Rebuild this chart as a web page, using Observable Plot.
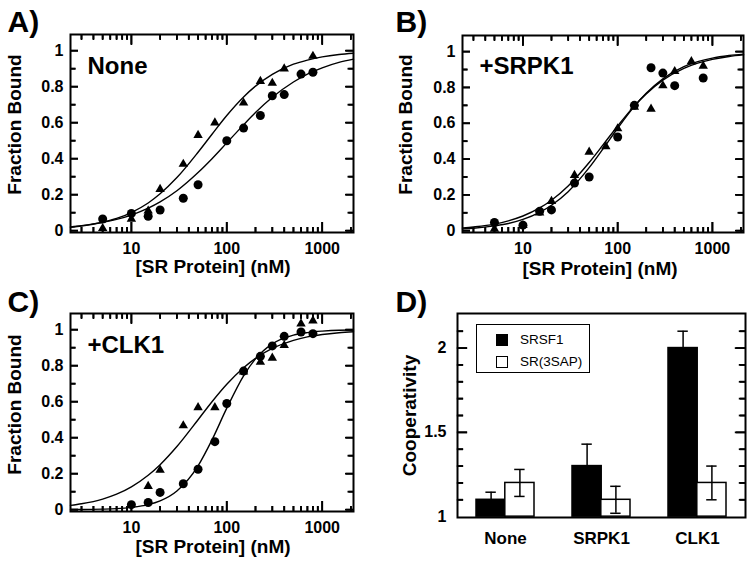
<!DOCTYPE html>
<html>
<head>
<meta charset="utf-8">
<script src="https://cdn.jsdelivr.net/npm/d3@7"></script>
<script src="https://cdn.jsdelivr.net/npm/@observablehq/plot@0.6"></script>
<style>
  html, body { margin: 0; padding: 0; background: #fff; }
  #wrap { position: relative; width: 754px; height: 565px;
          font-family: "Liberation Sans", Arial, Helvetica, sans-serif; }
  .panel { position: absolute; }
  #legend { position: absolute; left: 476px; top: 324px; width: 114px; height: 49px;
            box-sizing: border-box; border: 1px solid #000; background: #fff; font-size: 13.5px; color: #000; }
  #legend .row { position: absolute; left: 19px; height: 12px; display: flex; align-items: center; }
  #legend .sw { width: 12px; height: 12px; box-sizing: border-box; border: 1px solid #000; margin-right: 12px; }
  #legend .lab { line-height: 12px; }
</style>
</head>
<body>
<div id="wrap"></div>
<script>
// ---------------- data ----------------
const xMajor = [10, 100, 1000];
const xMinor = [3, 4, 5, 6, 7, 8, 9, 20, 30, 40, 50, 60, 70, 80, 90, 200, 300, 400, 500, 600, 700, 800, 900, 2000];
const yLabelTicks = [0, 0.2, 0.4, 0.6, 0.8, 1];
const yMinorTicks = [0.1, 0.3, 0.5, 0.7, 0.9];

// Panel A (None)
const concA_circ = [5, 10, 15, 20, 35, 50, 100, 150, 225, 300, 400, 600, 800];
const fbA_circ   = [0.065, 0.096, 0.08, 0.115, 0.18, 0.255, 0.50, 0.57, 0.64, 0.75, 0.756, 0.87, 0.88];
const concA_tri  = [5, 10, 15, 20, 35, 50, 75, 150, 225, 300, 400, 800];
const fbA_tri    = [0.013, 0.065, 0.11, 0.23, 0.37, 0.53, 0.60, 0.71, 0.83, 0.82, 0.90, 0.97];

// Panel B (+SRPK1)
const concB_circ = [5, 10, 15, 20, 35, 50, 100, 150, 225, 300, 400, 800];
const fbB_circ   = [0.046, 0.031, 0.108, 0.116, 0.266, 0.30, 0.523, 0.70, 0.91, 0.88, 0.81, 0.853];
const concB_tri  = [5, 10, 15, 20, 35, 50, 75, 100, 150, 225, 300, 400, 600, 800];
const fbB_tri    = [0.01, 0.03, 0.10, 0.165, 0.31, 0.44, 0.47, 0.57, 0.69, 0.68, 0.81, 0.89, 0.945, 0.92];

// Panel C (+CLK1)
const concC_circ = [10, 15, 20, 35, 50, 75, 100, 150, 225, 300, 400, 600, 800];
const fbC_circ   = [0.028, 0.04, 0.096, 0.144, 0.225, 0.378, 0.59, 0.77, 0.852, 0.91, 0.963, 0.987, 0.978];
const concC_tri  = [15, 20, 35, 50, 75, 150, 225, 300, 400, 600, 800];
const fbC_tri    = [0.13, 0.22, 0.467, 0.568, 0.568, 0.766, 0.82, 0.843, 0.913, 1.033, 1.05];

// fitted curves at these concentrations
const curveX   = [2.3, 3, 5, 7, 10, 15, 20, 30, 50, 70, 100, 150, 200, 300, 500, 700, 1000, 1500, 2130];
const fitA_tri  = [0.019, 0.026, 0.047, 0.068, 0.101, 0.154, 0.205, 0.295, 0.436, 0.536, 0.640, 0.743, 0.803, 0.869, 0.925, 0.948, 0.966, 0.979, 0.986];
const fitA_circ = [0.021, 0.028, 0.046, 0.063, 0.087, 0.125, 0.160, 0.222, 0.323, 0.400, 0.488, 0.588, 0.656, 0.741, 0.826, 0.870, 0.905, 0.935, 0.953];
const fitB_circ = [0.010, 0.014, 0.027, 0.040, 0.063, 0.102, 0.142, 0.218, 0.352, 0.457, 0.572, 0.694, 0.767, 0.848, 0.916, 0.944, 0.964, 0.978, 0.986];
const fitB_tri  = [0.015, 0.021, 0.037, 0.055, 0.082, 0.127, 0.170, 0.250, 0.381, 0.479, 0.585, 0.697, 0.764, 0.841, 0.907, 0.936, 0.957, 0.973, 0.982];
const fitC_circ = [0.001, 0.001, 0.003, 0.006, 0.013, 0.028, 0.049, 0.104, 0.244, 0.388, 0.564, 0.744, 0.838, 0.921, 0.970, 0.984, 0.992, 0.997, 0.998];
const fitC_tri  = [0.024, 0.033, 0.059, 0.086, 0.127, 0.191, 0.250, 0.351, 0.500, 0.600, 0.697, 0.789, 0.841, 0.896, 0.941, 0.960, 0.973, 0.983, 0.989];

// Panel D (cooperativity)
const kinases   = ["None", "SRPK1", "CLK1"];
const coopSRSF1 = [1.1, 1.3, 2.0];
const errSRSF1  = [0.045, 0.13, 0.1];
const coopSAP   = [1.2, 1.1, 1.2];
const errSAP    = [0.08, 0.08, 0.1];
const dMajorTicks = [1.5, 2.0];
const dMinorTicks = [1.1, 1.2, 1.3, 1.4, 1.6, 1.7, 1.8, 1.9, 2.1];
const dLabelTicks = [1, 1.5, 2];
const seriesNames = ["SRSF1", "SR(3SAP)"];

// ---------------- helpers ----------------
const FONT = '"Liberation Sans", Arial, Helvetica, sans-serif';
const wrap = document.getElementById("wrap");
const rows = (xs, ys) => xs.map((x, i) => ({x, y: ys[i]}));
const objs = vs => vs.map(v => ({v}));
const XDOM = [2.3, 2130];
const YDOM = [-0.01, 1.09];
const TSW = 1.8;

function place(svg, left, top) {
  const d = document.createElement("div");
  d.className = "panel";
  d.style.left = left + "px";
  d.style.top = top + "px";
  d.appendChild(svg);
  wrap.appendChild(d);
}

// inward ticks as axis marks (negative tick size points into the frame)
const axTicksX = (ticks, len) => ["bottom", "top"].map(a =>
  Plot.axisX(ticks, {anchor: a, tickSize: -len, tickFormat: () => "", strokeWidth: TSW, stroke: "#000", label: null}));
const axTicksY = (ticks, len) => ["left", "right"].map(a =>
  Plot.axisY(ticks, {anchor: a, tickSize: -len, tickFormat: () => "", strokeWidth: TSW, stroke: "#000", label: null}));

// second layer: tick marks with object data
function frameTicks(fw, fh) {
  const tx = (t, len) => [
    Plot.tickX(objs(t), {x: "v", insetTop: fh - len, stroke: "#000", strokeWidth: TSW}),
    Plot.tickX(objs(t), {x: "v", insetBottom: fh - len, stroke: "#000", strokeWidth: TSW})
  ];
  const ty = (t, len) => [
    Plot.tickY(objs(t), {y: "v", insetRight: fw - len, stroke: "#000", strokeWidth: TSW}),
    Plot.tickY(objs(t), {y: "v", insetLeft: fw - len, stroke: "#000", strokeWidth: TSW})
  ];
  return [...tx(xMajor, 10), ...tx(xMinor, 5), ...ty(yLabelTicks, 8), ...ty(yMinorTicks, 5.5)];
}

function bindingPanel(cfg) {
  const {W, H, m, letter, L, name, N, yl, xl, circ, tri, fitCirc, fitTri} = cfg;
  const fw = W - m.left - m.right;
  const fh = H - m.top - m.bottom;
  return Plot.plot({
    width: W, height: H,
    marginTop: m.top, marginRight: m.right, marginBottom: m.bottom, marginLeft: m.left,
    x: {type: "log", domain: XDOM},
    y: {domain: YDOM},
    style: {fontFamily: FONT, fontSize: "16px", fontWeight: "bold", color: "#000", background: "#fff"},
    marks: [
      Plot.line(rows(curveX, fitTri), {x: "x", y: "y", stroke: "#000", strokeWidth: 1.4, curve: "monotone-x"}),
      Plot.line(rows(curveX, fitCirc), {x: "x", y: "y", stroke: "#000", strokeWidth: 1.4, curve: "monotone-x"}),
      Plot.dot(rows(tri[0], tri[1]), {x: "x", y: "y", symbol: "triangle", r: 3.5, fill: "#000", stroke: "none"}),
      Plot.dot(rows(circ[0], circ[1]), {x: "x", y: "y", symbol: "circle", r: 4.5, fill: "#000", stroke: "none"}),
      ...frameTicks(fw, fh),
      ...axTicksX(xMajor, 10), ...axTicksX(xMinor, 5),
      ...axTicksY(yLabelTicks, 8), ...axTicksY(yMinorTicks, 5.5),
      Plot.frame({stroke: "#000", strokeWidth: 2}),
      Plot.axisX(xMajor, {tickSize: 0, tickPadding: 10, tickFormat: d => String(d), fontSize: 16, fontWeight: "bold", label: null}),
      Plot.axisY(yLabelTicks, {tickSize: 0, tickPadding: 7, tickFormat: d => String(d), fontSize: 16, fontWeight: "bold", label: null}),
      Plot.text([letter], {text: d => d, frameAnchor: "top-left", dx: L[0], dy: L[1], textAnchor: "start", lineAnchor: "bottom", fontSize: 30, fontWeight: "bold"}),
      Plot.text([name], {text: d => d, frameAnchor: "top-left", dx: N[0], dy: N[1], textAnchor: "start", lineAnchor: "bottom", fontSize: 24, fontWeight: "bold"}),
      Plot.text(["Fraction Bound"], {text: d => d, frameAnchor: "left", rotate: -90, dx: yl[0], dy: yl[1], textAnchor: "middle", lineAnchor: "middle", fontSize: 19, fontWeight: "bold"}),
      Plot.text(["[SR Protein] (nM)"], {text: d => d, frameAnchor: "bottom", dx: xl[0], dy: xl[1], textAnchor: "middle", lineAnchor: "bottom", fontSize: 19, fontWeight: "bold"})
    ]
  });
}

// ---------------- panels A, B, C ----------------
place(bindingPanel({
  W: 377, H: 280, m: {top: 34, right: 24, bottom: 48, left: 70},
  letter: "A)", L: [-63, -3], name: "None", N: [17, 39], yl: [-55.5, -9], xl: [1, 40],
  circ: [concA_circ, fbA_circ], tri: [concA_tri, fbA_tri], fitCirc: fitA_circ, fitTri: fitA_tri
}), 0, 0);

place(bindingPanel({
  W: 377, H: 280, m: {top: 35, right: 11, bottom: 48, left: 85},
  letter: "B)", L: [-67, -4], name: "+SRPK1", N: [17, 38], yl: [-56.5, -9.5], xl: [-3, 42],
  circ: [concB_circ, fbB_circ], tri: [concB_tri, fbB_tri], fitCirc: fitB_circ, fitTri: fitB_tri
}), 377, 0);

place(bindingPanel({
  W: 377, H: 285, m: {top: 33, right: 24, bottom: 54, left: 70},
  letter: "C)", L: [-63, -2], name: "+CLK1", N: [17, 39], yl: [-55.5, -8], xl: [1, 41],
  circ: [concC_circ, fbC_circ], tri: [concC_tri, fbC_tri], fitCirc: fitC_circ, fitTri: fitC_tri
}), 0, 280);

// ---------------- panel D ----------------
{
  const W = 377, H = 285, m = {top: 33, right: 9, bottom: 48, left: 80};
  const fw = W - m.left - m.right;
  const pIn = 0.4, pOut = 0.2;
  const step = fw / (kinases.length - pIn + 2 * pOut);
  const bw = step * (1 - pIn);
  const outer = step * pOut;
  const half = bw / 2;
  const capW = 10;
  const capInset = (bw - capW) / 2;
  const tS = kinases.map((k, i) => ({k, v: coopSRSF1[i], e: errSRSF1[i]}));
  const tA = kinases.map((k, i) => ({k, v: coopSAP[i], e: errSAP[i]}));
  const errMarks = (t, off) => [
    Plot.ruleX(t, {x: "k", y1: d => d.v - d.e, y2: d => d.v + d.e, dx: off, stroke: "#000", strokeWidth: 1.5}),
    Plot.tickY(t, {x: "k", y: d => d.v + d.e, dx: off, insetLeft: capInset, insetRight: capInset, stroke: "#000", strokeWidth: 1.5}),
    Plot.tickY(t, {x: "k", y: d => d.v - d.e, dx: off, insetLeft: capInset, insetRight: capInset, stroke: "#000", strokeWidth: 1.5})
  ];
  const first = kinases[0], last = kinases[kinases.length - 1];
  const sideTicks = (ticks, len) => [
    Plot.tickY(ticks.map(v => ({k: first, v})), {x: "k", y: "v", insetRight: bw - len, dx: -outer, stroke: "#000", strokeWidth: TSW}),
    Plot.tickY(ticks.map(v => ({k: last, v})), {x: "k", y: "v", insetLeft: bw - len, dx: outer, stroke: "#000", strokeWidth: TSW})
  ];
  const svg = Plot.plot({
    width: W, height: H,
    marginTop: m.top, marginRight: m.right, marginBottom: m.bottom, marginLeft: m.left,
    x: {type: "band", domain: kinases, paddingInner: pIn, paddingOuter: pOut},
    y: {domain: [0.995, 2.205]},
    style: {fontFamily: FONT, fontSize: "16px", fontWeight: "bold", color: "#000", background: "#fff"},
    marks: [
      Plot.barY(tS, {x: "k", y1: 1, y2: "v", insetRight: half, fill: "#000", stroke: "#000", strokeWidth: 1.5}),
      Plot.barY(tA, {x: "k", y1: 1, y2: "v", insetLeft: half, fill: "#fff", stroke: "#000", strokeWidth: 1.5}),
      ...errMarks(tS, -half / 2),
      ...errMarks(tA, half / 2),
      ...sideTicks(dMajorTicks, 10),
      ...sideTicks(dMinorTicks, 6),
      ...axTicksY(dMajorTicks, 10), ...axTicksY(dMinorTicks, 6),
      Plot.frame({stroke: "#000", strokeWidth: 2}),
      Plot.axisX({tickSize: 0, tickPadding: 14, fontSize: 17, fontWeight: "bold", label: null}),
      Plot.axisY(dLabelTicks, {tickSize: 0, tickPadding: 11, tickFormat: d => String(d), fontSize: 16, fontWeight: "bold", label: null}),
      Plot.text(["D)"], {text: d => d, frameAnchor: "top-left", dx: -62, dy: -2, textAnchor: "start", lineAnchor: "bottom", fontSize: 30, fontWeight: "bold"}),
      Plot.text(["Cooperativity"], {text: d => d, frameAnchor: "left", rotate: -90, dx: -47.5, dy: 0, textAnchor: "middle", lineAnchor: "middle", fontSize: 19, fontWeight: "bold"})
    ]
  });
  place(svg, 377, 280);

  // legend
  const lg = document.createElement("div");
  lg.id = "legend";
  const fills = ["#000", "#fff"];
  seriesNames.forEach((s, i) => {
    const r = document.createElement("div");
    r.className = "row";
    r.style.top = (i === 0 ? 9 : 31) + "px";
    const sw = document.createElement("div");
    sw.className = "sw";
    sw.style.background = fills[i];
    const lab = document.createElement("span");
    lab.className = "lab";
    lab.textContent = s;
    r.appendChild(sw);
    r.appendChild(lab);
    lg.appendChild(r);
  });
  wrap.appendChild(lg);
}
</script>
</body>
</html>
